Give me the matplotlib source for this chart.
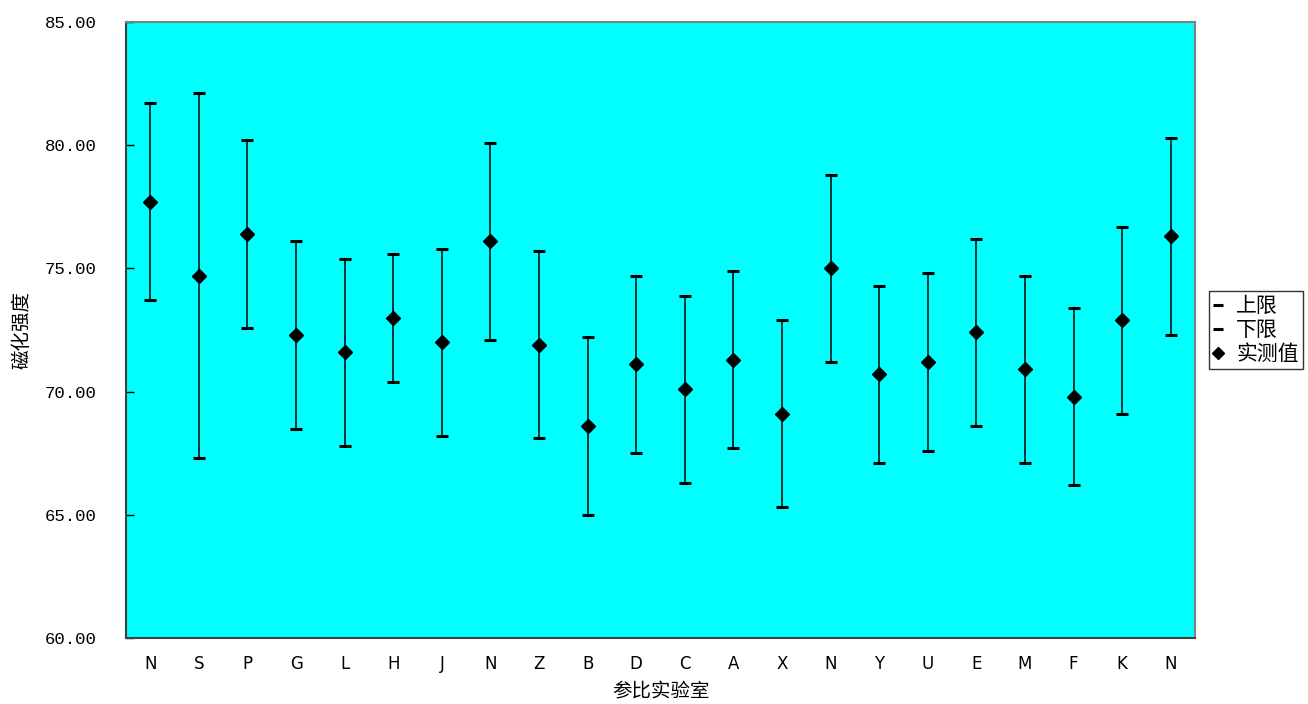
import numpy as np
import matplotlib.pyplot as plt
from matplotlib.lines import Line2D

labs = ['N', 'S', 'P', 'G', 'L', 'H', 'J', 'N', 'Z', 'B', 'D',
        'C', 'A', 'X', 'N', 'Y', 'U', 'E', 'M', 'F', 'K', 'N']
measured = [77.7, 74.7, 76.4, 72.3, 71.6, 73.0, 72.0, 76.1, 71.9, 68.6, 71.1,
            70.1, 71.3, 69.1, 75.0, 70.7, 71.2, 72.4, 70.9, 69.8, 72.9, 76.3]
upper = [81.7, 82.1, 80.2, 76.1, 75.4, 75.6, 75.8, 80.1, 75.7, 72.2, 74.7,
         73.9, 74.9, 72.9, 78.8, 74.3, 74.8, 76.2, 74.7, 73.4, 76.7, 80.3]
lower = [73.7, 67.3, 72.6, 68.5, 67.8, 70.4, 68.2, 72.1, 68.1, 65.0, 67.5,
         66.3, 67.7, 65.3, 71.2, 67.1, 67.6, 68.6, 67.1, 66.2, 69.1, 72.3]
yticks = [60, 65, 70, 75, 80, 85]

cjk = ['Noto Sans CJK SC', 'DejaVu Sans']

fig = plt.figure(figsize=(13.08, 7.04), dpi=100)
ax = fig.add_axes([126/1308, 66/704, (1195-126)/1308, (638-22)/704])
ax.set_facecolor('#00ffff')

x = np.arange(len(labs))
ax.vlines(x, lower, upper, color='black', lw=1.1, zorder=2)
ax.plot(x, upper, ls='none', marker='_', ms=8, mew=2.2, color='black', zorder=3)
ax.plot(x, lower, ls='none', marker='_', ms=8, mew=2.2, color='black', zorder=3)
ax.plot(x, measured, ls='none', marker='D', ms=7, color='black', zorder=4)

ax.set_xlim(-0.5, len(labs) - 0.5)
ax.set_ylim(60, 85)
ax.set_yticks(yticks)
ax.set_yticklabels([f'{v:.2f}' for v in yticks], family='Liberation Mono', fontsize=12.5)
ax.set_xticks(x)
ax.set_xticklabels(labs, family=['Liberation Sans Narrow', 'DejaVu Sans'], fontsize=12)
ax.tick_params(axis='x', length=0, pad=12)
ax.tick_params(axis='y', direction='in', length=6, width=1, pad=21)

for s in ['left', 'bottom']:
    ax.spines[s].set_color('#404040')
    ax.spines[s].set_linewidth(1.5)
for s in ['right', 'top']:
    ax.spines[s].set_color('#808080')
    ax.spines[s].set_linewidth(1.5)

ax.set_ylabel('磁化强度', family=cjk, fontsize=14, labelpad=9)
ax.set_xlabel('参比实验室', family=cjk, fontsize=14, labelpad=6)

handles = [
    Line2D([], [], ls='none', marker='_', ms=7, mew=2.2, color='black'),
    Line2D([], [], ls='none', marker='_', ms=7, mew=2.2, color='black'),
    Line2D([], [], ls='none', marker='D', ms=6, color='black'),
]
leg = fig.legend(handles, ['上限', '下限', '实测值'], loc='center left',
                 bbox_to_anchor=(1209/1308, 1 - 330/704), prop={'family': cjk, 'size': 15},
                 frameon=True, fancybox=False, edgecolor='black', handlelength=0.5,
                 handletextpad=0.6, labelspacing=0.1, borderpad=0.2, borderaxespad=0)
leg.get_frame().set_linewidth(1.0)

fig.savefig('out.png', dpi=100, facecolor='white')
